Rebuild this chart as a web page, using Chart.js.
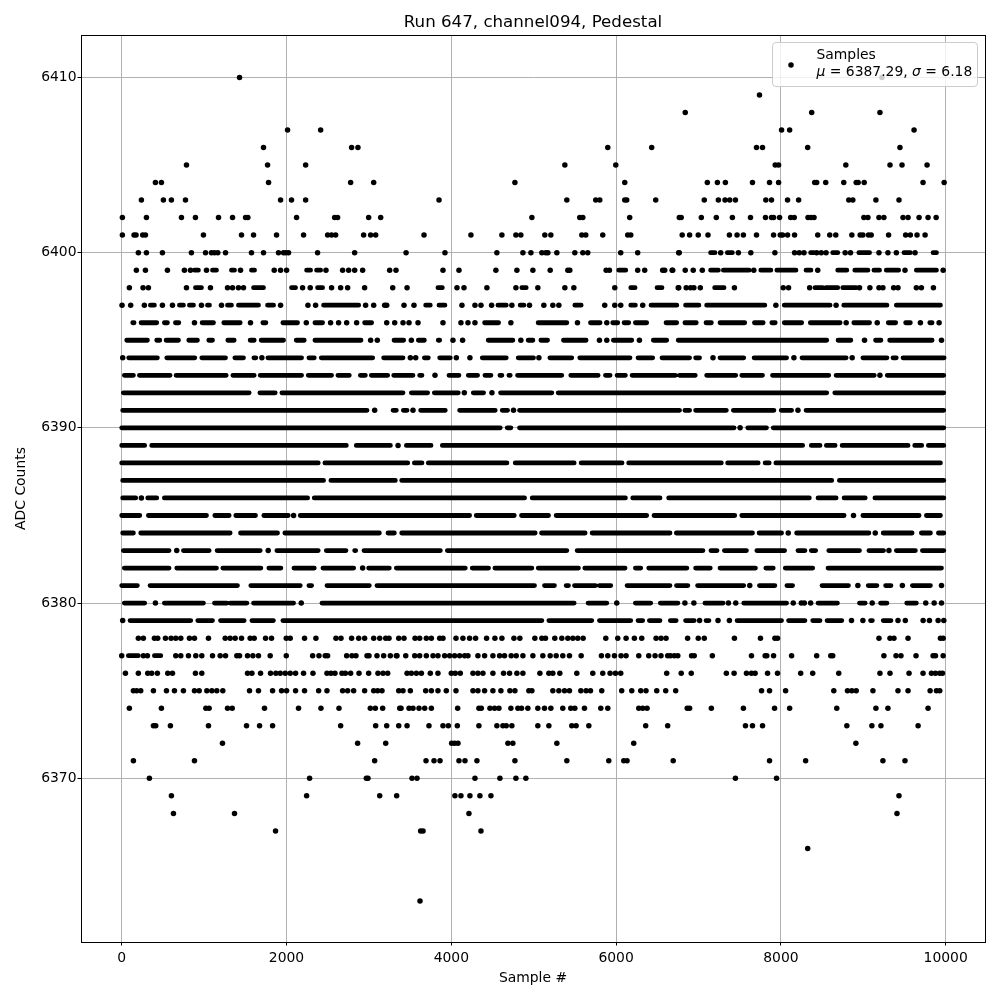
<!DOCTYPE html>
<html><head><meta charset="utf-8">
<style>html,body{margin:0;padding:0;background:#fff}#w{width:1000px;height:1000px}</style>
<script src="https://cdn.jsdelivr.net/npm/chart.js@4"></script>
</head><body><div id="w"><canvas id="c" width="1000" height="1000"></canvas></div>
<script>
// Values. A plain number is one sample number on that ADC level.
// A pair [a,b] is a stretch where the dots overlap too much to tell apart; it is drawn
// as one solid run between the two read-off ends, not as invented individual samples.
const titleText = "Run 647, channel094, Pedestal";
const xLabel = "Sample #";
const yLabel = "ADC Counts";
const seriesName = "Samples";
const statsMu = "6387.29";
const statsSigma = "6.18";
const xTicks = [0,2000,4000,6000,8000,10000];
const yTicks = [6370,6380,6390,6400,6410];

const L6410=[1430,9226];
const L6409=[7740];
const L6408=[6839,8374,9202];
const L6407=[2013,2414,8008,8106,9616];
const L6406=[1721,2790,2867,5899,6432,7704,7777,8325,9445];
const L6405=[786,1770,2232,5378,5996,7931,7972,8788,9324,9470,9774];
const L6404=[409,482,1782,2778,3058,4772,6105,7107,7229,7326,7655,7862,7972,8410,8434,8544,8763,8914,8938,9011,9725,9981];
const L6403=[239,506,603,774,1928,2061,2232,3851,5402,5753,5802,6105,6129,6481,7070,7241,7322,7379,7448,7817,7886,8081,8215,8824,8873,9153,9433];
const L6402=[8,300,725,895,1175,1345,1503,1531,2122,2584,2620,2997,3143,4978,5559,5596,6165,6767,6790,7034,7216,7411,7631,7813,7886,7911,7984,8118,8162,8329,8365,8402,9007,9056,9190,9250,9482,9543,9677,9786,9884];
const L6401=[8,150,174,255,288,992,1454,1600,1879,2207,2499,2547,2596,2936,3021,3082,3669,4238,4614,4784,4844,5135,5208,5584,5632,5838,6141,6178,6802,6892,6997,7115,7375,7468,7545,7704,7911,7992,8020,8081,8166,8447,8593,8666,8861,8962,8995,9063,9096,9307,9514,9571,9652,9750];
const L6400=[202,300,494,846,1017,1089,1126,1166,1260,1575,1721,1903,1964,1993,2025,2377,2827,3451,3923,4553,4869,4966,5099,5147,5172,5281,5499,5596,5656,6056,6262,6759,6766,[7147,7200],7269,[7350,7411],7484,7635,7927,8166,8223,8280,[8361,8400],8434,8490,8548,[8629,8690],8780,8845,[8946,9076],9190,9299,9401,[9494,9571],9628,[9847,9888]];
const L6399=[178,288,555,761,834,[883,931],1029,[1102,1150],[1332,1369],1442,[1575,1612],1851,1928,2001,[2244,2292],[2365,2414],2479,2681,2754,2827,2924,3252,3329,3899,4093,4541,4796,4990,5200,5414,5438,5879,5919,[6032,6117],6262,6347,6565,6590,6687,6680,6839,6936,7046,[7147,7241],[7302,7614],7671,[7756,7878],[7951,8183],[8305,8365],8447,[8690,8800],[8897,9056],[9129,9197],[9279,9429],9506,[9644,9888],9969];
const L6398=[93,259,324,786,[895,968],1077,1284,1345,1417,1478,[1600,1721],[2061,2110],2195,2288,[2377,2438],2547,2657,2742,2948,3289,3463,[3838,3891],4069,4154,4432,4784,[4856,4909],5050,5378,5487,5984,[6178,6230],[6497,6557],6760,6754,6851,6904,6944,7022,[7196,7310],7436,8028,8093,8349,[8414,8508],[8548,8690],[8751,8914],8954,9080,9190,9238,9368,9421,9644,9705,9851];
const L6397=[4,109,275,[348,397],494,616,[701,749],[822,871],968,[1041,1065],1211,[1284,1332],[1417,1660],[1770,1843],1928,2260,2353,[2450,2876],2960,3058,3191,3216,3426,3547,[3689,3745],[3851,3923],4129,4287,4360,4489,[4566,4667],4735,[4836,4881],4949,5123,5232,5305,[5499,5576],5862,5984,6056,[6178,6234],6323,[6424,6687],[6672,6737],[6843,7005],[7099,7805],7939,[8041,8597],8670,[8763,9287],[9401,9936]];
const L6396=[[134,150],[235,425],[518,555],[652,693],883,[976,1114],[1239,1438],1563,[1713,1750],[1956,2134],2240,[2345,2438],2535,2632,2730,2851,[2948,3033],3216,3313,3414,3487,3596,3899,4117,4202,4287,[4404,4574],4723,[5054,5402],5531,[5689,5806],5887,[5959,6020],[6097,6153],[6234,6371],[6606,6735],[6672,6713],[6835,6973],[7091,7156],[7261,7561],[7679,7785],[7890,7931],[8041,8252],[8357,8719],8792,[8885,9076],9169,[9303,9393],[9514,9571],9693,[9807,9835],9920];
const L6395=[[61,312],[425,462],[539,689],[814,919],[1057,1102],[1288,1365],[1559,1608],[1693,1964],[2118,2215],[2345,2904],3021,3102,[3305,3422],3515,[3600,3673],[3842,3859],4020,4137,[4448,4747],4844,[4933,4990],[5087,5168],[5361,5636],5798,5887,[5967,6190],6283,[6452,6614],[6754,8556],[8694,8849],9015,[9149,9214],[9320,9835],9949];
const L6394=[12,[85,433],[547,887],[972,1260],[1373,1478],[1604,1628],1701,[1774,2183],[2272,2337],[2422,3046],[3179,3414],3503,3568,[3673,3721],[3859,3988],4061,4226,[4376,4667],[4812,4998],5063,[5196,5462],[5559,6169],[6266,6444],[6557,6892],[6965,7013],7176,[7261,7549],[7675,8069],8158,[8256,8792],8865,[8995,9287],[9360,9400],[9482,9981]];
const L6393=[[32,142],[215,587],[660,1268],[1349,1608],[1681,2183],[2264,2547],[2624,2762],[2896,2957],[3029,3228],[3301,3535],[3616,3644],3802,[3972,4093],[4206,4319],[4408,4481],[4590,4614],[4699,4715],[4804,5341],[5450,5782],[5871,5927],[6012,6113],[6194,6719],[6770,6961],[7099,7452],[7525,7777],[7898,8581],[8670,9133],9202,[9291,9977]];
const L6392=[[20,1547],[1677,1863],[1944,3414],[3515,3713],[3794,4085],4158,[4267,4392],4493,[4598,5220],[5297,8556],[8654,9977]];
const L6391=[[12,2977],3070,[3293,3333],[3418,3463],3535,[3628,3927],[4101,4533],[4618,4683],4755,[4828,6770],[6835,6892],[6965,7338],[7423,7915],[8004,8130],8207,[8305,9977]];
const L6390=[[0,4594],[4679,4723],[4828,7432],7505,[7598,7825],[7907,9977]];
const L6389=[[0,279],[364,2726],[2847,3261],3354,[3455,3754],[3891,8264],[8369,8475],[8552,8658],[8743,9543],[9624,9709],[9790,9977]];
const L6388=[[0,2385],[2466,3471],[3552,3644],[3721,4675],[4776,5491],[5576,6072],[6153,7277],[7354,7724],[7809,7858],[7939,9936]];
const L6387=[[12,2450],[2539,3321],[3398,8617],[8710,9977]];
const L6386=[[12,170],239,[316,425],[518,2256],[2337,4889],[4982,6113],[6202,6533],[6638,8345],[8451,8670],[8767,9023],[9141,9977]];
const L6385=[[0,219],[324,1029],[1130,1304],[1385,1624],[1725,2021],2086,[2167,4222],[4303,4764],[4852,5180],[5273,6371],[6460,7440],[7525,8767],8881,[8995,9677],[9766,9936]];
const L6384=[[12,142],[231,1316],[1442,1891],[1980,3127],[3232,3309],[3398,5018],[5095,5624],[5709,6654],[6731,7655],[7736,8008],8089,[8191,9068],9145,[9242,9592],[9705,9815],[9912,9977]];
const L6383=[[20,575],668,[749,1061],[1158,1681],1778,[1883,2385],[2483,2722],[2827,2840],[2940,3867],[3952,5402],[5527,7054],[7151,7225],[7314,7582],[7708,8045],[8207,8292],[8369,8422],[8581,8954],[9068,9246],9311,[9401,9632],[9717,9977]];
const L6382=[[32,575],[668,1150],[1227,1689],[1786,1932],[2090,2337],[2442,2815],2924,[2997,3248],[3333,4170],[4254,4452],[4529,4978],[5055,5543],[5620,6109],[6234,6299],[6396,6859],[6965,7143],[7261,7691],[7817,7907],[8053,8386],[8572,9949]];
const L6381=[[0,190],[344,1405],[1567,2167],[2272,2305],[2491,3005],[3098,5010],[5131,5252],[5394,5422],[5495,5749],[5798,5935],[6133,6654],[6733,6871],[6989,7549],7622,[7740,7927],[8073,8142],[8499,8820],8934,[9060,9165],[9271,9336],9474,[9596,9815],9949];
const L6380=[[32,279],409,[518,992],[1126,1276],[1316,1519],[1600,2086],2179,[2430,3317],[3317,5491],[5660,5887],6008,[6234,6420],[6537,6750],6835,6944,[7078,7298],7363,7452,[7549,8069],8150,8248,8284,8361,[8451,8686],[8954,9023],9108,[9210,9287],[9527,9644],9758,9860,9949];
const L6379=[12,[101,838],[923,1102],[1199,1486],[1580,1841],[1956,5099],[5184,5705],[5798,6178],[6266,6323],[6404,6533],[6658,6729],[6843,6948],7013,[7091,7127],7237,7375,[7468,8008],[8093,8292],[8386,8475],[8560,8739],8857,8995,[9088,9110],[9242,9336],9421,9510,9726,9803,9908,9977];
const L6378=[202,263,397,437,531,599,656,717,822,883,1053,1256,1316,1377,1454,1559,1608,1746,1818,1997,2045,2219,2357,2600,2661,2790,2876,2948,3058,3131,3204,3244,3362,3426,3560,3616,3697,3758,3859,3899,4057,4141,4222,4295,4428,4529,4614,4760,4832,5014,5099,5143,5256,5341,5414,5475,5535,5600,5875,6020,6121,6222,6311,6485,6545,6606,6868,6997,7070,7436,7752,7927,7959,9190,9324,9372,9543,9936,9969];
const L6377=[0,[81,202],263,312,[397,474],656,717,810,899,972,1102,1195,1260,1397,1430,1527,1592,1660,1802,1997,2317,2394,2470,2499,2730,2794,2843,2977,3001,3098,3179,3260,3341,3333,3447,3556,3616,3697,3778,3838,3919,3980,4040,4101,4162,4202,4323,4404,4505,4586,4646,4727,4788,4869,4990,5111,5200,5273,5353,5434,5576,5822,5899,5980,6060,6121,6275,6396,6473,6545,6626,6707,6660,6749,6916,6948,7168,7643,7809,7829,7911,8130,8434,8605,8629,9250,9397,9457,9640,9847,9876,9969];
const L6376=[45,202,316,364,433,559,616,895,972,1527,1580,1685,1806,1871,1924,1985,2045,2110,2207,2321,2491,2539,2588,2673,2714,2778,2880,2997,3110,3171,3228,3463,3515,3576,3637,3745,3838,4000,4048,4109,4263,4323,4384,4505,4634,4707,4796,4869,5075,5184,5232,5317,5523,5717,5838,5927,5992,6056,6614,6790,6912,7338,7432,7582,7643,7687,7838,7959,8240,8386,8702,9202,9324,9555,9725,9827,9876,9928,9961];
const L6375=[142,182,231,385,543,640,749,883,940,1033,1094,1154,1227,1551,1660,1831,1940,2001,2110,2219,2390,2491,2681,2742,2815,2948,3058,3106,3159,3362,3414,3503,3689,3758,3838,3939,4057,4263,4323,4404,4505,4602,4711,4772,4941,4978,5232,5305,5374,5434,5572,5636,5689,5826,6068,6190,6299,6363,6493,6602,6723,7765,7862,8057,8642,8808,8861,8914,9117,9421,9543,9811,9888,9928];
const L6374=[93,482,1021,1061,1284,1341,1733,2146,2418,2637,3017,3078,3167,3374,3390,3487,3535,3608,3677,3758,4077,4335,4364,4469,4525,4578,4723,4808,4852,4929,5050,5131,5208,5353,5450,5499,5616,5814,5899,6275,6323,6376,6863,6892,7156,7545,7923,8106,8678,9153,9299,9786];
const L6373=[385,413,591,1053,1515,1673,1831,2657,3082,3216,3362,3463,3729,3899,3964,4073,4335,4553,4626,4667,4735,5050,5184,5462,5515,5669,6359,6626,7570,7655,7777,8800,9104,9214,9665];
const L6372=[1223,2863,3204,4004,4040,4081,4687,4747,5281,6214,8910];
const L6371=[142,883,3070,3693,3790,3863,4093,4166,4311,4772,5402,5911,6093,6133,6693,7862,8300,9238,9506];
const L6370=[336,2280,2969,2989,3523,3584,4287,4590,4784,4905,7448,7947];
const L6369=[603,2244,3131,3337,4044,4117,4226,4347,4481,9433];
const L6368=[628,1369,4214,9409];
const L6367=[1867,3628,3657,4360];
const L6366=[8325];
const L6363=[3620];

const rows=[[6410,L6410],[6409,L6409],[6408,L6408],[6407,L6407],[6406,L6406],[6405,L6405],[6404,L6404],[6403,L6403],[6402,L6402],[6401,L6401],[6400,L6400],[6399,L6399],[6398,L6398],[6397,L6397],[6396,L6396],[6395,L6395],[6394,L6394],[6393,L6393],[6392,L6392],[6391,L6391],[6390,L6390],[6389,L6389],[6388,L6388],[6387,L6387],[6386,L6386],[6385,L6385],[6384,L6384],[6383,L6383],[6382,L6382],[6381,L6381],[6380,L6380],[6379,L6379],[6378,L6378],[6377,L6377],[6376,L6376],[6375,L6375],[6374,L6374],[6373,L6373],[6372,L6372],[6371,L6371],[6370,L6370],[6369,L6369],[6368,L6368],[6367,L6367],[6366,L6366],[6363,L6363]];
const singles=[],runs=[];
for(const [lv,row] of rows){for(const e of row){
  if(Array.isArray(e)){runs.push({x:e[0],y:lv},{x:e[1],y:lv},{x:NaN,y:NaN});}
  else singles.push({x:e,y:lv});
}}

const FONT='"DejaVu Sans"';
const frameAndLegend={
  id:'frameAndLegend',
  afterDraw(chart){
    const c=chart.ctx,a=chart.chartArea;c.save();
    c.strokeStyle='#000';c.lineWidth=1;
    c.strokeRect(Math.round(a.left)+0.5,Math.round(a.top)+0.5,Math.round(a.right-a.left),Math.round(a.bottom-a.top));
    c.beginPath();c.roundRect(772.5,42.5,205,44,3.5);
    c.fillStyle='rgba(255,255,255,0.8)';c.fill();
    c.strokeStyle='#cccccc';c.lineWidth=1;c.stroke();
    c.fillStyle='#000';c.beginPath();c.arc(791,65,2.75,0,Math.PI*2);c.fill();
    c.textBaseline='alphabetic';c.textAlign='left';
    c.font='13.9px '+FONT;c.fillText(seriesName,816.5,59);
    let x=816.5;const y=76;
    const put=(t,st)=>{c.font=(st?'italic ':'')+'13.9px '+FONT;c.fillText(t,x,y);x+=c.measureText(t).width;};
    put('\u03bc',1);put(' = '+statsMu+', ',0);put('\u03c3',1);put(' = '+statsSigma,0);
    c.restore();
  }
};
new Chart(document.getElementById('c'),{
  type:'scatter',
  data:{datasets:[
    {label:seriesName,data:singles,backgroundColor:'#000',borderColor:'#000',pointRadius:2.75,pointBorderWidth:0,pointHoverRadius:2.75},
    {label:seriesName+' (overlapping runs)',data:runs,showLine:true,spanGaps:false,borderColor:'#000',backgroundColor:'#000',borderWidth:4.8,borderCapStyle:'round',pointRadius:0,tension:0}
  ]},
  options:{
    responsive:false,animation:false,devicePixelRatio:1,
    layout:{padding:{left:0,right:15,top:0,bottom:0}},
    plugins:{
      legend:{display:false},tooltip:{enabled:false},
      title:{display:true,fullSize:false,text:titleText,color:'#000',font:{family:FONT,size:16.67,weight:'normal',lineHeight:1},padding:{top:14,bottom:4.33}}
    },
    scales:{
      x:{type:'linear',min:-494,max:10477,
        afterFit(s){s.height=58;},
        afterBuildTicks(s){s.ticks=xTicks.map(v=>({value:v}));},
        ticks:{color:'#000',font:{family:FONT,size:13.9},padding:5,maxRotation:0,callback:v=>String(v)},
        grid:{color:'#b0b0b0',lineWidth:1,tickColor:'#000',tickLength:3.5,tickWidth:1},
        border:{color:'#000',width:1},
        title:{display:true,text:xLabel,color:'#000',font:{family:FONT,size:13.9,lineHeight:1.1},padding:{top:4,bottom:14}}
      },
      y:{type:'linear',min:6360.66,max:6412.42,
        afterFit(s){s.width=81;},
        afterBuildTicks(s){s.ticks=yTicks.map(v=>({value:v}));},
        ticks:{color:'#000',font:{family:FONT,size:13.9},padding:1,callback:v=>String(v)},
        grid:{color:'#b0b0b0',lineWidth:1,tickColor:'#000',tickLength:3.5,tickWidth:1},
        border:{color:'#000',width:1},
        title:{display:true,text:yLabel,color:'#000',font:{family:FONT,size:13.9,lineHeight:1.1},padding:{top:14,bottom:0}}
      }
    }
  },
  plugins:[frameAndLegend]
});
</script></body></html>
